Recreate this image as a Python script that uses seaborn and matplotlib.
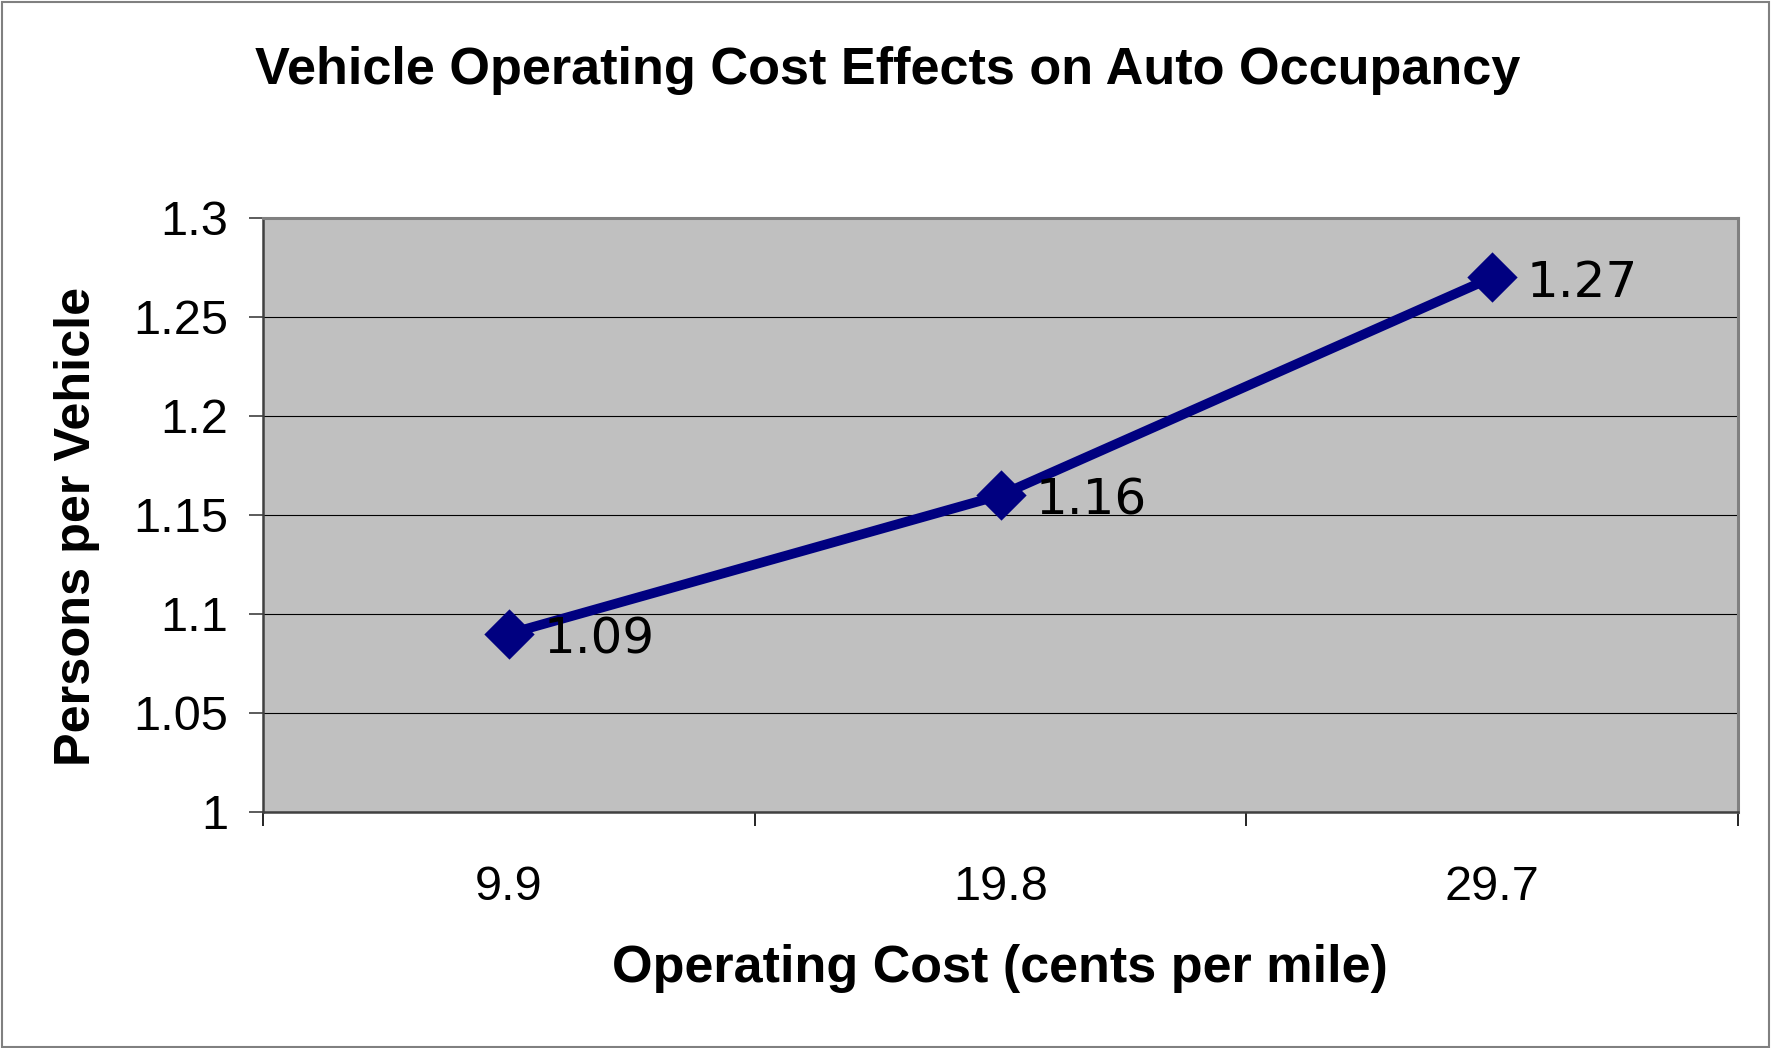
import matplotlib
matplotlib.use("Agg")
import matplotlib.pyplot as plt
import seaborn as sns
import pandas as pd
import numpy as np
from matplotlib.patches import Rectangle

# ---- data ----
categories = ["9.9", "19.8", "29.7"]
persons_per_vehicle = [1.09, 1.16, 1.27]
y_ticks = [1.0, 1.05, 1.1, 1.15, 1.2, 1.25, 1.3]
y_tick_labels = ["1", "1.05", "1.1", "1.15", "1.2", "1.25", "1.3"]
title = "Vehicle Operating Cost Effects on Auto Occupancy"
x_label = "Operating Cost (cents per mile)"
y_label = "Persons per Vehicle"

df = pd.DataFrame({"cost": categories, "ppv": persons_per_vehicle})

sns.set_theme(style="white")
plt.rcParams["font.family"] = ["Liberation Sans", "DejaVu Sans"]

fig = plt.figure(figsize=(17.73, 10.48), dpi=100)
ax = fig.add_axes([0.1483, 0.2252, 0.9803 - 0.1483, 0.7920 - 0.2252])
ax.set_facecolor("#C0C0C0")

navy = "#000080"
sns.pointplot(data=df, x="cost", y="ppv", order=categories, ax=ax,
              color=navy, markers="D", linestyles="-",
              markersize=20, linewidth=7, errorbar=None)

ax.set_xlim(-0.5, len(categories) - 0.5)
ax.set_ylim(1.0, 1.3)
ax.set_yticks(y_ticks)
ax.set_yticklabels(y_tick_labels)
ax.yaxis.grid(True, color="black", linewidth=0.8)
ax.set_axisbelow(True)
ax.xaxis.grid(False)

ax.set_xticks(range(len(categories)))
ax.set_xticklabels(categories)
ax.set_xticks(np.arange(-0.5, len(categories), 1.0), minor=True)
ax.tick_params(axis="x", which="major", length=0, pad=38, labelsize=35, labelcolor="black")
ax.tick_params(axis="x", which="minor", length=10, width=1.2, color="black", direction="out", bottom=True)
ax.tick_params(axis="y", which="major", length=10, width=1.2, color="#404040", direction="out",
               pad=15, labelsize=35, labelcolor="black", left=True)

ax.set_xlabel("")
ax.set_ylabel("")

for side in ["top", "right"]:
    ax.spines[side].set_visible(True)
    ax.spines[side].set_color("#808080")
    ax.spines[side].set_linewidth(2.2)
for side in ["left", "bottom"]:
    ax.spines[side].set_visible(True)
    ax.spines[side].set_color("#404040")
    ax.spines[side].set_linewidth(1.8)

for i, v in enumerate(persons_per_vehicle):
    ax.annotate(f"{v:.2f}", xy=(i, v), xytext=(25, -4), textcoords="offset points",
                ha="left", va="center", fontsize=36, color="black",
                family=["DejaVu Sans"], zorder=5)

fig.text(0.5008, 0.933, title, ha="center", va="center", fontsize=37.6, fontweight="bold", color="black")
fig.text(0.564, 0.0754, x_label, ha="center", va="center", fontsize=37.5, fontweight="bold", color="black")
fig.text(0.0434, 0.498, y_label, ha="center", va="center", rotation=90, fontsize=36.3, fontweight="bold", color="black")

fig.patches.append(Rectangle((0.001, 0.001), 0.997, 0.997, transform=fig.transFigure,
                             fill=False, edgecolor="#808080", linewidth=1.5))

fig.savefig("out.png", dpi=100, facecolor="white")
